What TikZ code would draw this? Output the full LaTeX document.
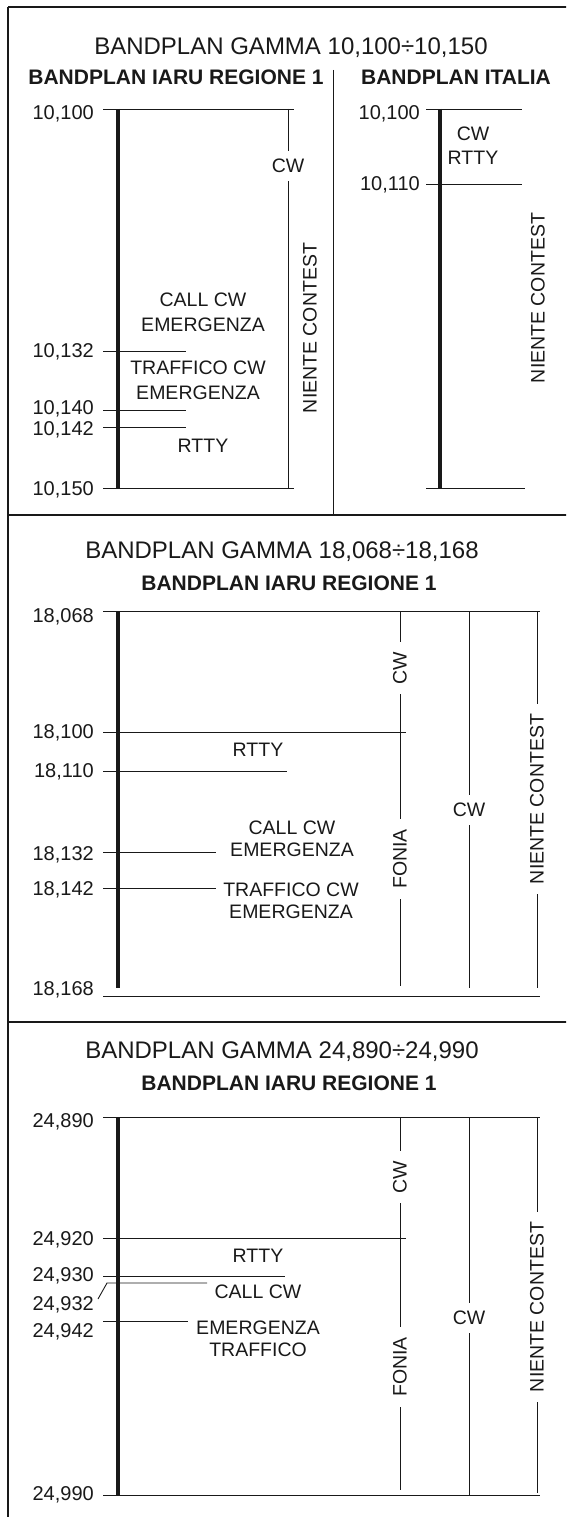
\documentclass[tikz,border=0pt]{standalone}
\usepackage{fontspec}
\setmainfont{Liberation Sans}
\usetikzlibrary{positioning}
\definecolor{inkcol}{RGB}{25,25,25}

\begin{document}
\begin{tikzpicture}[
    x=1pt, y=-1pt,
    every node/.style={text=inkcol},
    title/.style={anchor=base, inner sep=0pt, font=\fontsize{24}{26}\selectfont},
    subtitle/.style={anchor=base, inner sep=0pt, font=\fontsize{21}{23}\selectfont\bfseries},
    freq/.style={anchor=base east, inner sep=0pt, font=\fontsize{20}{22}\selectfont},
    band/.style={align=center, inner sep=0pt, font=\fontsize{19.5}{22}\selectfont},
    vband/.style={rotate=90, fill=white, inner xsep=10pt, inner ysep=1pt, font=\fontsize{19.5}{22}\selectfont},
    hband/.style={fill=white, inner xsep=1pt, inner ysep=8pt, font=\fontsize{19.5}{22}\selectfont},
    bar/.style={line width=4.8pt, inkcol},
    tick/.style={line width=0.9pt, inkcol},
    frame/.style={line width=2pt, inkcol},
]
\clip (0,0) rectangle (566,1517);

% frame
\draw[frame] (8,7) -- (600,7);
\draw[frame] (8,7) -- (8,1530);
\draw[frame] (8,515) -- (600,515);
\draw[frame] (8,1022) -- (600,1022);

% 10 MHz
\node[title] (t10) at (291,55) {BANDPLAN GAMMA 10,100÷10,150};
\node[subtitle] (iaru10) at (176,85) {BANDPLAN IARU REGIONE 1};
\node[subtitle] (ita10) at (456,85) {BANDPLAN ITALIA};
\draw[tick] (333,70) -- (333,515);

\draw[tick] (103,109) -- (294,109);
\draw[tick] (103,351) -- (186,351);
\draw[tick] (103,410) -- (186,410);
\draw[tick] (103,427) -- (186,427);
\draw[tick] (103,488) -- (294,488);
\draw[bar] (118,109) -- (118,488);
\draw[tick] (288,109) -- (288,488);
\node[freq] (f10100) at (94,120) {10,100};
\node[freq] (f10132) at (94,357) {10,132};
\node[freq] (f10140) at (94,414) {10,140};
\node[freq] (f10142) at (94,435) {10,142};
\node[freq] (f10150) at (94,495) {10,150};
\node[hband] (cw10) at (288,166) {CW};
\node[vband] (nc10) at (310,328) {NIENTE CONTEST};
\node[band] (call10) at (203,312) {CALL CW\\[3pt]EMERGENZA};
\node[band] (traf10) at (198,380) {TRAFFICO CW\\[3pt]EMERGENZA};
\node[band] (rtty10) at (203,446) {RTTY};

\draw[tick] (426,109) -- (522,109);
\draw[tick] (426,184) -- (522,184);
\draw[tick] (426,488) -- (525,488);
\draw[bar] (440,109) -- (440,488);
\node[freq] (i10100) at (420,120) {10,100};
\node[freq] (i10110) at (420,190) {10,110};
\node[band] (icw10) at (473,146) {CW\\[2pt]RTTY};
\node[vband] (inc10) at (538,298) {NIENTE CONTEST};

% 18 MHz
\node[title] (t18) at (282,558) {BANDPLAN GAMMA 18,068÷18,168};
\node[subtitle] (iaru18) at (289,590) {BANDPLAN IARU REGIONE 1};

\draw[tick] (103,611) -- (540,611);
\draw[tick] (103,732) -- (406,732);
\draw[tick] (103,771) -- (287,771);
\draw[tick] (103,852) -- (216,852);
\draw[tick] (103,888) -- (216,888);
\draw[tick] (103,996) -- (540,996);
\draw[bar] (118,611) -- (118,988);
\draw[tick] (400,611) -- (400,986);
\draw[tick] (469,611) -- (469,988);
\draw[tick] (537,611) -- (537,988);
\node[freq] (f18068) at (94,622) {18,068};
\node[freq] (f18100) at (94,738) {18,100};
\node[freq] (f18110) at (94,777) {18,110};
\node[freq] (f18132) at (94,860) {18,132};
\node[freq] (f18142) at (94,895) {18,142};
\node[freq] (f18168) at (94,995) {18,168};
\node[vband] (cw18) at (400,668) {CW};
\node[vband] (fon18) at (400,859) {FONIA};
\node[hband] (cwb18) at (469,810) {CW};
\node[vband] (nc18) at (537,799) {NIENTE CONTEST};
\node[band] (rtty18) at (258,750) {RTTY};
\node[band] (call18) at (292,839) {CALL CW\\EMERGENZA};
\node[band] (traf18) at (291,901) {TRAFFICO CW\\EMERGENZA};

% 24 MHz
\node[title] (t24) at (282,1058) {BANDPLAN GAMMA 24,890÷24,990};
\node[subtitle] (iaru24) at (289,1090) {BANDPLAN IARU REGIONE 1};

\draw[tick] (103,1117) -- (540,1117);
\draw[tick] (103,1238) -- (406,1238);
\draw[tick] (103,1276) -- (285,1276);
\draw[tick] (98,1299) -- (107,1283) -- (207,1283);
\draw[tick] (103,1321) -- (188,1321);
\draw[tick] (103,1495) -- (540,1495);
\draw[bar] (118,1117) -- (118,1495);
\draw[tick] (400,1117) -- (400,1490);
\draw[tick] (469,1117) -- (469,1495);
\draw[tick] (537,1117) -- (537,1493);
\node[freq] (f24890) at (94,1127) {24,890};
\node[freq] (f24920) at (94,1245) {24,920};
\node[freq] (f24930) at (94,1281) {24,930};
\node[freq] (f24932) at (94,1310) {24,932};
\node[freq] (f24942) at (94,1337) {24,942};
\node[freq] (f24990) at (94,1500) {24,990};
\node[vband] (cw24) at (400,1177) {CW};
\node[vband] (fon24) at (400,1367) {FONIA};
\node[hband] (cwb24) at (469,1318) {CW};
\node[vband] (nc24) at (537,1307) {NIENTE CONTEST};
\node[band] (rtty24) at (258,1256) {RTTY};
\node[band] (call24) at (258,1292) {CALL CW};
\node[band] (emer24) at (258,1339) {EMERGENZA\\TRAFFICO};
\end{tikzpicture}
\end{document}
